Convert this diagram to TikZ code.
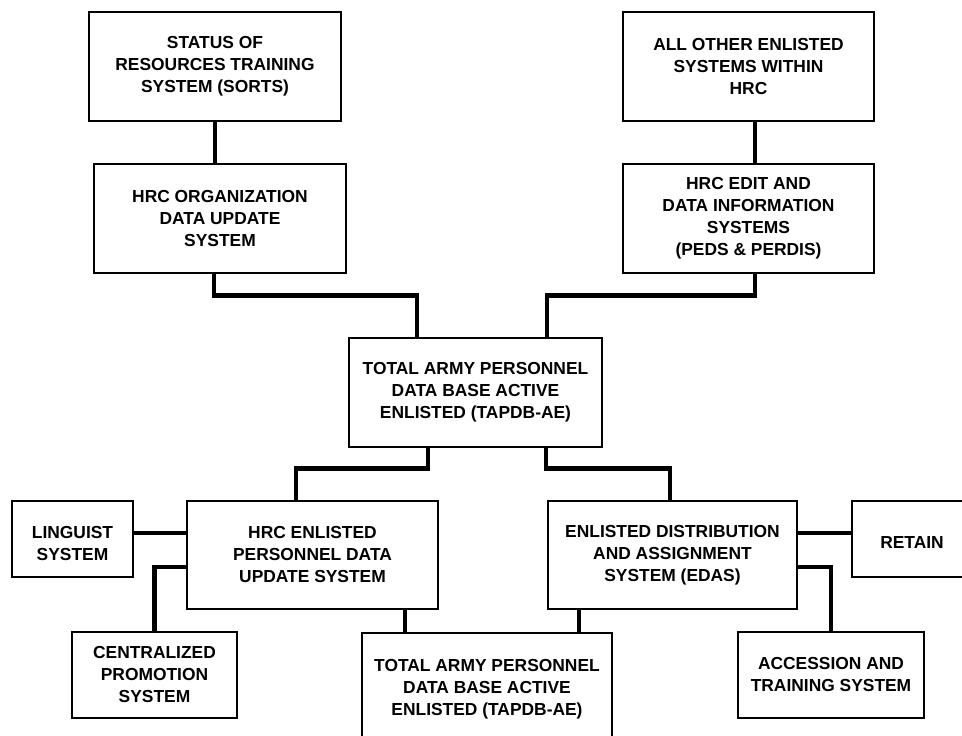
\documentclass[tikz,border=0pt]{standalone}
\usepackage{fontspec}
\setmainfont{Liberation Sans}
\newcommand\boxfont{\fontsize{17.4}{22}\selectfont\bfseries}
\begin{document}
\begin{tikzpicture}[x=1pt,y=-1pt,
  box/.style={draw=black, line width=2.4pt, fill=white, align=center, font=\boxfont, inner sep=0pt},
  conn/.style={draw=black, line width=4.8pt, line join=miter}]
\clip (0,0) rectangle (962,736);
\fill[white] (0,0) rectangle (962,736);

\node[box, minimum width=252pt, minimum height=109pt] (sorts) at (215,66.5)
  {STATUS OF\\RESOURCES TRAINING\\SYSTEM (SORTS)};
\node[box, minimum width=252pt, minimum height=109pt] (org) at (220,218.5)
  {HRC ORGANIZATION\\DATA UPDATE\\SYSTEM};
\node[box, minimum width=251pt, minimum height=109pt] (other) at (748.5,66.5)
  {ALL OTHER ENLISTED\\SYSTEMS WITHIN\\HRC};
\node[box, minimum width=251pt, minimum height=109pt] (edit) at (748.5,218.5)
  {HRC EDIT AND\\DATA  INFORMATION\\SYSTEMS\\(PEDS \& PERDIS)};
\node[box, minimum width=253pt, minimum height=109pt] (tap) at (475.5,392.5)
  {TOTAL ARMY PERSONNEL\\DATA BASE ACTIVE\\ENLISTED (TAPDB-AE)};
\node[box, minimum width=251pt, minimum height=108pt] (enl) at (312.5,555)
  {HRC ENLISTED\\PERSONNEL DATA\\UPDATE SYSTEM};
\node[box, minimum width=121pt, minimum height=76pt,
  label={[font=\boxfont, align=center, anchor=center, yshift=-5pt]center:LINGUIST\\SYSTEM}]
  (ling) at (72.5,539) {};
\node[box, minimum width=165pt, minimum height=86pt] (cent) at (154.5,675)
  {CENTRALIZED\\PROMOTION\\SYSTEM};
\node[box, minimum width=250pt, minimum height=130pt, anchor=north,
  label={[font=\boxfont, align=center, anchor=center, yshift=-57pt]north:TOTAL ARMY PERSONNEL\\DATA BASE ACTIVE\\ENLISTED (TAPDB-AE)}]
  (tap2) at (487,632) {};
\node[box, minimum width=249pt, minimum height=108pt] (edas) at (672.5,555)
  {ENLISTED DISTRIBUTION\\AND ASSIGNMENT\\SYSTEM (EDAS)};
\node[box, minimum width=120pt, minimum height=76pt,
  label={[font=\boxfont, anchor=center, yshift=-4pt]center:RETAIN}]
  (ret) at (912,539) {};
\node[box, minimum width=186pt, minimum height=86pt] (acc) at (831,675)
  {ACCESSION AND\\TRAINING SYSTEM};

% connectors
\draw[conn] (sorts.south) -- (sorts.south |- org.north);
\draw[conn] ([xshift=-6pt]org.south) -- ++(0,21) -| ([xshift=-58.5pt]tap.north);
\draw[conn] ([xshift=6.5pt]other.south) -- ([xshift=6.5pt]other.south |- edit.north);
\draw[conn] ([xshift=6.5pt]edit.south) -- ++(0,21) -| ([xshift=71.5pt]tap.north);
\draw[conn] ([xshift=-47.5pt]tap.south) -- ++(0,20) -| ([xshift=-16.5pt]enl.north);
\draw[conn] ([xshift=70.5pt]tap.south) -- ++(0,20) -| ([xshift=-2.5pt]edas.north);
\draw[conn] ([yshift=6pt]ling.east) -- ([yshift=6pt]ling.east -| enl.west);
\draw[conn] ([yshift=-12pt]enl.west) -| (cent.north);
\draw[conn] ([xshift=-82pt]tap2.north) -- ([xshift=-82pt]tap2.north |- enl.south);
\draw[conn] ([xshift=92pt]tap2.north) -- ([xshift=92pt]tap2.north |- edas.south);
\draw[conn] ([yshift=6pt]ret.west) -- ([yshift=6pt]ret.west -| edas.east);
\draw[conn] ([yshift=-12pt]edas.east) -| (acc.north);
\end{tikzpicture}
\end{document}
